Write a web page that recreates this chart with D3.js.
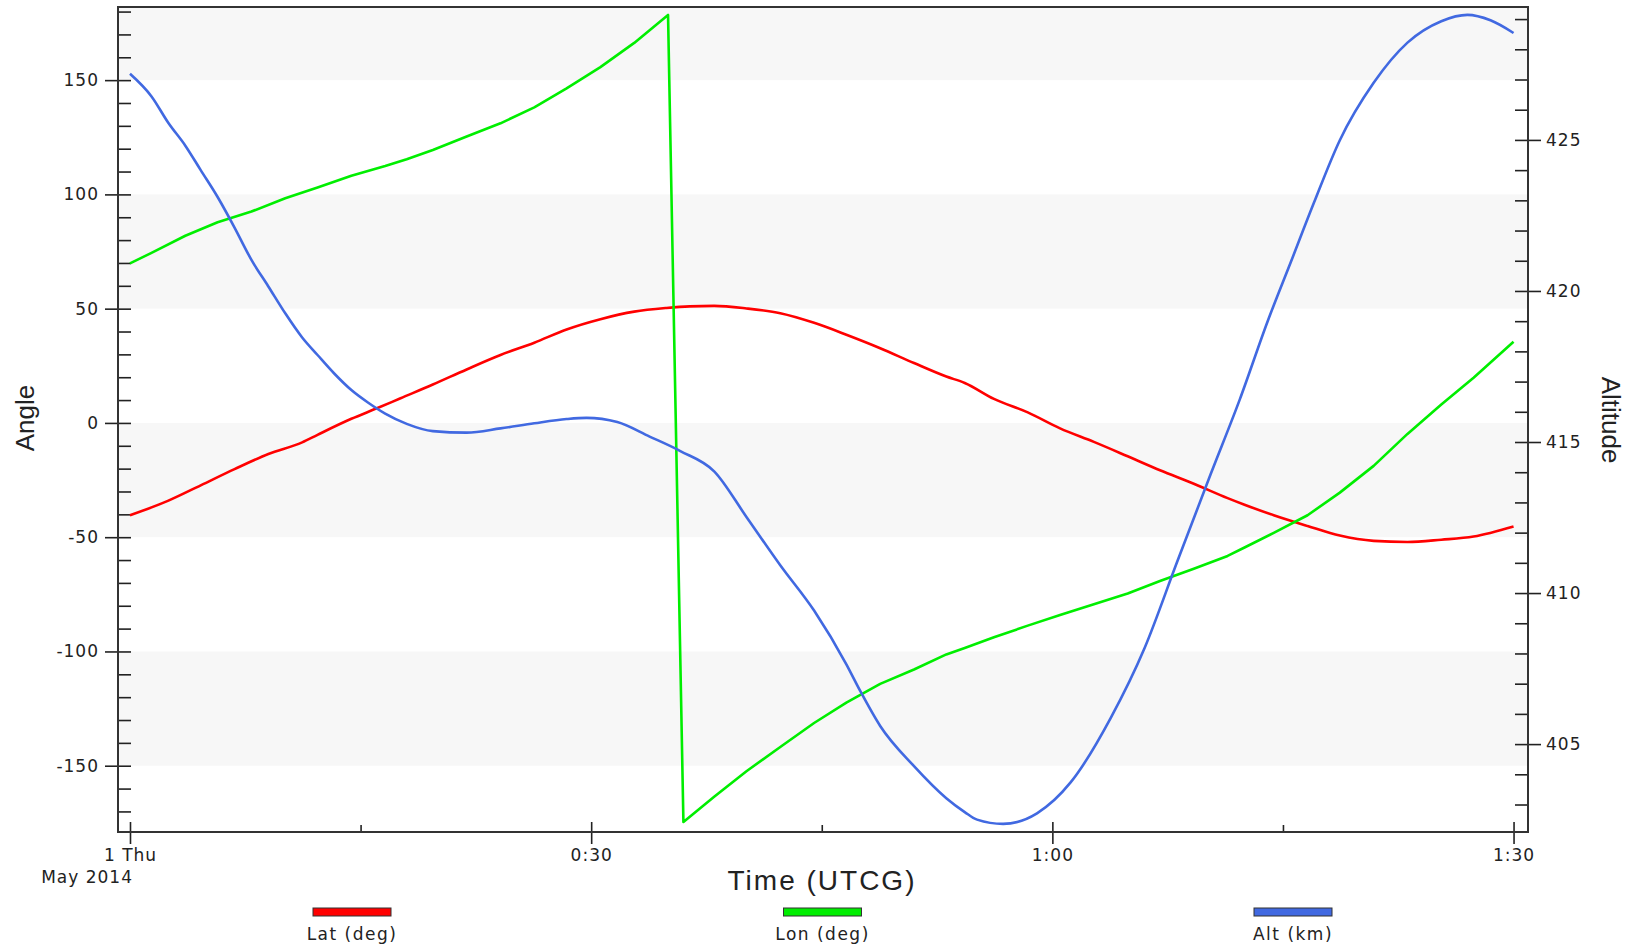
<!DOCTYPE html>
<html>
<head>
<meta charset="utf-8">
<script src="https://cdn.jsdelivr.net/npm/d3@7"></script>
<style>
  body { margin: 0; background: #fff; }
  .tick text { font-family: "DejaVu Sans", Verdana, sans-serif; font-size: 17px; fill: #222; letter-spacing: 1px; }
  .tick line { stroke: #222; stroke-width: 1.6px; }
</style>
</head>
<body>
<script>
// time in minutes after 1 May 2014 00:00 UTCG
var latTimes = [0, 2.5, 4.6, 6.8, 9, 11.2, 12.2, 14.4, 16.1, 17.6, 19.7, 21.9, 24.1, 26.3, 28.4, 30.6, 32.8, 34.9, 36.4, 38, 40.1, 42.3, 44.5, 46.6, 48.8, 51, 53.1, 54.3, 56.2, 58.4, 60.5, 62.7, 64.9, 67, 69.2, 71.4, 72.5, 74.4, 76.6, 78.7, 80.9, 83.1, 85.3, 87.4, 90];
var latValues = [-40.4, -34, -27.3, -20.2, -13.6, -8.5, -5.2, 1.8, 6.5, 10.8, 16.8, 23.4, 29.7, 35.1, 40.9, 45.4, 48.7, 50.3, 51, 51.2, 50.1, 48, 43.8, 38.6, 32.7, 26.2, 20.3, 17.5, 10.5, 4.6, -2.4, -8.3, -14.6, -20.7, -26.6, -32.9, -35.8, -40.4, -45.1, -49.3, -51.6, -52.1, -51.1, -49.7, -45.3];

var lonTimes = [0, 1.4, 3.6, 5.7, 7.9, 10.1, 12.2, 14.4, 16.6, 18, 19.7, 21.9, 24.1, 26.3, 28.4, 30.6, 32.8, 35, 36, 38, 40.1, 42.3, 44.5, 46.6, 48.8, 51, 53.1, 54.3, 56.2, 58.4, 60.5, 62.7, 64.9, 67, 69.2, 71.4, 72.5, 74.4, 76.6, 78.7, 80.9, 83.1, 85.3, 87.4, 90];
var lonValues = [69.8, 74.4, 81.9, 87.8, 92.5, 98.3, 103, 108.2, 112.4, 115.4, 119.4, 125.3, 131.1, 138.1, 146.4, 155.7, 166.3, 178.5, -174.6, -163.6, -152.4, -141.8, -131.3, -122.4, -114.2, -107.9, -101.3, -98.5, -93.8, -88.7, -84, -79.3, -74.6, -69.2, -63.8, -58.2, -54.5, -48.1, -40.4, -30.5, -18.8, -4.8, 8.1, 19.8, 35.5];

var altTimes = [0, 1.4, 2.5, 3.6, 4.6, 5.7, 6.8, 7.9, 9, 10.1, 11.2, 12.2, 13.3, 14.4, 15.5, 16.6, 18, 19.7, 21.9, 24.1, 26.3, 28.4, 29.7, 31.7, 33.8, 35.8, 38, 40.1, 42.3, 44.5, 46.6, 47.5, 48.8, 51, 53.1, 54.3, 55.1, 56.8, 59, 61.2, 63.8, 66, 68.1, 70.3, 72.2, 74, 75.5, 77, 78.7, 80.9, 83.1, 85.3, 87, 88.5, 90];
var altValues = [427.19, 426.44, 425.56, 424.81, 424.0, 423.11, 422.1, 421.03, 420.15, 419.26, 418.46, 417.88, 417.26, 416.72, 416.3, 415.94, 415.6, 415.36, 415.31, 415.45, 415.62, 415.76, 415.8, 415.66, 415.18, 414.7, 414.03, 412.52, 410.92, 409.42, 407.64, 406.76, 405.6, 404.27, 403.21, 402.75, 402.5, 402.36, 402.71, 403.74, 405.87, 408.18, 411.01, 413.94, 416.42, 418.99, 420.94, 422.9, 424.99, 426.89, 428.22, 428.93, 429.14, 428.96, 428.54];

var seriesNames = ["Lat (deg)", "Lon (deg)", "Alt (km)"];
var seriesColors = ["#ff0000", "#00ee00", "#4169e1"];

var timeTicks = [0, 30, 60, 90];
var timeMinorTicks = [15, 45, 75];
var timeLabels = ["1 Thu", "0:30", "1:00", "1:30"];
var angleTicks = [-150, -100, -50, 0, 50, 100, 150];
var altTicks = [405, 410, 415, 420, 425];

function main() {
  var W = 1632, H = 946;
  var left = 118, right = 1528, top = 7, bottom = 832;

  var svg = d3.select("body").append("svg")
    .attr("width", W)
    .attr("height", H);

  var x = d3.scaleLinear().domain([-0.78, 90.94]).range([left, right]);
  var yAngle = d3.scaleLinear().domain([-179, 182]).range([bottom, top]);
  var yAlt = d3.scaleLinear().domain([402.09, 429.4]).range([bottom, top]);

  // alternating bands every 50 deg
  var bands = [[150, 182], [50, 100], [-50, 0], [-150, -100]];
  svg.append("g").selectAll("rect")
    .data(bands)
    .enter()
    .append("rect")
    .attr("x", left)
    .attr("width", right - left)
    .attr("y", function(d) { return yAngle(d[1]); })
    .attr("height", function(d) { return yAngle(d[0]) - yAngle(d[1]); })
    .attr("fill", "#f7f7f7");

  // left axis: labelled ticks outside, minor ticks inside
  svg.append("g")
    .attr("transform", "translate(" + left + ",0)")
    .call(d3.axisLeft(yAngle).tickValues(angleTicks).tickSize(13).tickPadding(6)
      .tickFormat(function(d) { return String(d); }));
  svg.append("g")
    .attr("transform", "translate(" + left + ",0)")
    .call(d3.axisRight(yAngle).tickValues(d3.range(-170, 181, 10)).tickSize(13).tickFormat(""));

  // right axis
  svg.append("g")
    .attr("transform", "translate(" + right + ",0)")
    .call(d3.axisRight(yAlt).tickValues(altTicks).tickSize(13).tickPadding(5));
  svg.append("g")
    .attr("transform", "translate(" + right + ",0)")
    .call(d3.axisLeft(yAlt).tickValues(d3.range(403, 430, 1)).tickSize(13).tickFormat(""));

  // bottom axis
  svg.append("g")
    .attr("transform", "translate(0," + bottom + ")")
    .call(d3.axisBottom(x).tickValues(timeTicks).tickSize(12).tickPadding(5)
      .tickFormat(function(d, i) { return timeLabels[i]; }));
  svg.append("g")
    .attr("transform", "translate(0," + bottom + ")")
    .call(d3.axisTop(x).tickValues(timeTicks).tickSize(10).tickFormat(""));
  svg.append("g")
    .attr("transform", "translate(0," + bottom + ")")
    .call(d3.axisTop(x).tickValues(timeMinorTicks).tickSize(7).tickFormat(""));

  svg.selectAll(".domain").remove();

  svg.append("text")
    .attr("x", x(0) + 3)
    .attr("y", 883)
    .attr("text-anchor", "end")
    .style("font-family", "DejaVu Sans, Verdana, sans-serif")
    .style("font-size", "17px")
    .style("letter-spacing", "1px")
    .attr("fill", "#222")
    .text("May 2014");

  // lines
  var smooth = d3.line()
    .x(function(d) { return x(d[0]); })
    .y(function(d) { return yAngle(d[1]); })
    .curve(d3.curveMonotoneX);
  var straight = d3.line()
    .x(function(d) { return x(d[0]); })
    .y(function(d) { return yAngle(d[1]); });
  var altLine = d3.line()
    .x(function(d) { return x(d[0]); })
    .y(function(d) { return yAlt(d[1]); })
    .curve(d3.curveMonotoneX);

  var series = [
    smooth(d3.zip(latTimes, latValues)),
    straight(d3.zip(lonTimes, lonValues)),
    altLine(d3.zip(altTimes, altValues))
  ];
  svg.append("g").selectAll("path")
    .data(series)
    .enter()
    .append("path")
    .attr("d", function(d) { return d; })
    .attr("fill", "none")
    .attr("stroke", function(d, i) { return seriesColors[i]; })
    .attr("stroke-width", 2.6)
    .attr("stroke-linejoin", "round");

  // frame
  svg.append("rect")
    .attr("x", left)
    .attr("y", top)
    .attr("width", right - left)
    .attr("height", bottom - top)
    .attr("fill", "none")
    .attr("stroke", "#333")
    .attr("stroke-width", 2);

  // axis titles
  svg.append("text")
    .attr("transform", "translate(34,418) rotate(-90)")
    .attr("text-anchor", "middle")
    .style("font-family", "Liberation Sans, Arial, sans-serif")
    .style("font-size", "26px")
    .attr("fill", "#222")
    .text("Angle");
  svg.append("text")
    .attr("transform", "translate(1602,420) rotate(90)")
    .attr("text-anchor", "middle")
    .style("font-family", "Liberation Sans, Arial, sans-serif")
    .style("font-size", "26px")
    .attr("fill", "#222")
    .text("Altitude");
  svg.append("text")
    .attr("x", 822)
    .attr("y", 890)
    .attr("text-anchor", "middle")
    .style("font-family", "Liberation Sans, Arial, sans-serif")
    .style("font-size", "28px")
    .style("letter-spacing", "2px")
    .attr("fill", "#222")
    .text("Time (UTCG)");

  // legend
  var legendX = d3.scalePoint().domain(seriesNames).range([352, 1293]);
  var legend = svg.append("g").selectAll("g")
    .data(seriesNames)
    .enter()
    .append("g")
    .attr("transform", function(d) { return "translate(" + legendX(d) + ",0)"; });
  legend.append("rect")
    .attr("x", -39)
    .attr("y", 908)
    .attr("width", 78)
    .attr("height", 8)
    .attr("fill", function(d, i) { return seriesColors[i]; })
    .attr("stroke", "#333")
    .attr("stroke-width", 1);
  legend.append("text")
    .attr("y", 940)
    .attr("text-anchor", "middle")
    .style("font-family", "DejaVu Sans, Verdana, sans-serif")
    .style("font-size", "17px")
    .style("letter-spacing", "1.5px")
    .attr("fill", "#222")
    .text(function(d) { return d; });
}

main();
</script>
</body>
</html>
